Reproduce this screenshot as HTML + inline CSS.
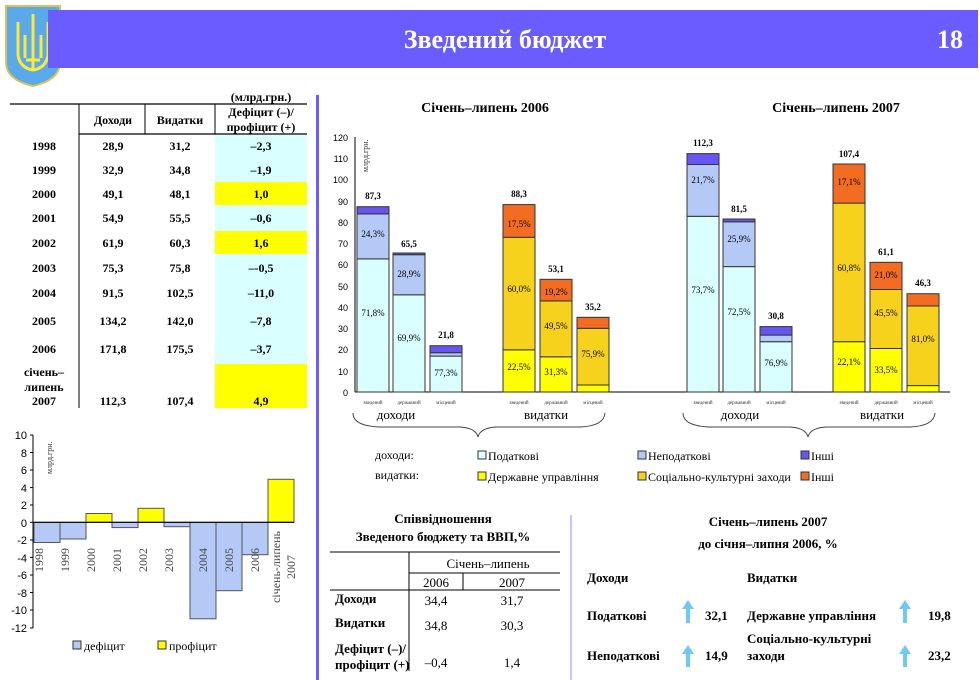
<!DOCTYPE html>
<html><head><meta charset="utf-8"><style>
body{margin:0;background:#fff;}
svg{display:block;font-family:"Liberation Serif",serif;}
</style></head><body>
<svg width="980" height="680" viewBox="0 0 980 680" xmlns="http://www.w3.org/2000/svg">
<!-- header -->
<path d="M6,6 L60,6 L60,62 Q60,80 33,86 Q6,80 6,62 Z" fill="#5aa9e8" stroke="#d9c25a" stroke-width="2"/>
<path d="M33,14 L33,70 M18,22 L18,55 Q20,68 33,70 Q46,68 48,55 L48,22 M25,35 L25,58 M41,35 L41,58 M26,60 L40,60" stroke="#ffe83a" stroke-width="3" fill="none"/>
<rect x="48" y="10" width="930" height="58" fill="#6a5cff"/>
<text x="505" y="48" font-size="26" font-weight="bold" fill="#fff" text-anchor="middle">Зведений бюджет</text>
<text x="950" y="48" font-size="26" font-weight="bold" fill="#fff" text-anchor="middle">18</text>
<rect x="316" y="95" width="3" height="585" fill="#6a5cff"/>

<!-- left table -->
<g font-size="12" font-weight="bold" text-anchor="middle">
<text x="261" y="101">(млрд.грн.)</text>
<line x1="10" y1="104" x2="307" y2="104" stroke="#000" stroke-width="1.2"/>
<text x="113" y="124">Доходи</text><text x="180" y="124">Видатки</text>
<text x="261" y="116">Дефіцит (–)/</text><text x="261" y="131">профіцит (+)</text>
<line x1="79" y1="134" x2="307" y2="134" stroke="#000" stroke-width="1.2"/>
<line x1="79" y1="104" x2="79" y2="408" stroke="#000"/>
<line x1="145" y1="104" x2="145" y2="134" stroke="#000"/>
<line x1="215" y1="104" x2="215" y2="134" stroke="#000"/>
<rect x="215" y="135" width="92" height="273" fill="#d9ffff"/>
<rect x="215" y="182" width="92" height="23" fill="#ffff00"/>
<rect x="215" y="231" width="92" height="23" fill="#ffff00"/>
<rect x="215" y="364" width="92" height="44" fill="#ffff00"/>
<g>
<text x="44" y="150">1998</text><text x="113" y="150">28,9</text><text x="180" y="150">31,2</text><text x="261" y="150">–2,3</text>
<text x="44" y="174">1999</text><text x="113" y="174">32,9</text><text x="180" y="174">34,8</text><text x="261" y="174">–1,9</text>
<text x="44" y="198">2000</text><text x="113" y="198">49,1</text><text x="180" y="198">48,1</text><text x="261" y="198">1,0</text>
<text x="44" y="222">2001</text><text x="113" y="222">54,9</text><text x="180" y="222">55,5</text><text x="261" y="222">–0,6</text>
<text x="44" y="247">2002</text><text x="113" y="247">61,9</text><text x="180" y="247">60,3</text><text x="261" y="247">1,6</text>
<text x="44" y="272">2003</text><text x="113" y="272">75,3</text><text x="180" y="272">75,8</text><text x="261" y="272">–-0,5</text>
<text x="44" y="297">2004</text><text x="113" y="297">91,5</text><text x="180" y="297">102,5</text><text x="261" y="297">–11,0</text>
<text x="44" y="325">2005</text><text x="113" y="325">134,2</text><text x="180" y="325">142,0</text><text x="261" y="325">–7,8</text>
<text x="44" y="353">2006</text><text x="113" y="353">171,8</text><text x="180" y="353">175,5</text><text x="261" y="353">–3,7</text>
<text x="44" y="376">січень–</text><text x="44" y="391">липень</text>
<text x="44" y="405">2007</text><text x="113" y="405">112,3</text><text x="180" y="405">107,4</text><text x="261" y="405">4,9</text>
</g>
</g>

<!-- bottom-left chart -->
<g font-size="11" font-family="Liberation Sans, sans-serif" text-anchor="end">
<line x1="33" y1="435" x2="33" y2="628" stroke="#000"/>
<text x="27" y="439">10</text><text x="27" y="457">8</text><text x="27" y="474">6</text><text x="27" y="492">4</text><text x="27" y="509">2</text><text x="27" y="527">0</text>
<text x="27" y="544">-2</text><text x="27" y="562">-4</text><text x="27" y="579">-6</text><text x="27" y="597">-8</text><text x="27" y="614">-10</text><text x="27" y="632">-12</text>
<g stroke="#000"><line x1="30" y1="435" x2="33" y2="435"/><line x1="30" y1="452.5" x2="33" y2="452.5"/><line x1="30" y1="470" x2="33" y2="470"/><line x1="30" y1="487.6" x2="33" y2="487.6"/><line x1="30" y1="505" x2="33" y2="505"/><line x1="30" y1="522.3" x2="33" y2="522.3"/><line x1="30" y1="540" x2="33" y2="540"/><line x1="30" y1="557.4" x2="33" y2="557.4"/><line x1="30" y1="575" x2="33" y2="575"/><line x1="30" y1="592.5" x2="33" y2="592.5"/><line x1="30" y1="610" x2="33" y2="610"/><line x1="30" y1="628" x2="33" y2="628"/></g>
</g>
<text transform="translate(52,474) rotate(-90)" font-size="8" fill="#333">млрд.грн.</text>
<g stroke="#555" stroke-width="1">
<rect x="34" y="522.3" width="26" height="20.2" fill="#b4c9f5"/>
<rect x="60" y="522.3" width="26" height="16.7" fill="#b4c9f5"/>
<rect x="86" y="513.5" width="26" height="8.8" fill="#ffff00"/>
<rect x="112" y="522.3" width="26" height="5.3" fill="#b4c9f5"/>
<rect x="138" y="508.3" width="26" height="14" fill="#ffff00"/>
<rect x="164" y="522.3" width="26" height="4.4" fill="#b4c9f5"/>
<rect x="190" y="522.3" width="26" height="96.5" fill="#b4c9f5"/>
<rect x="216" y="522.3" width="26" height="68.4" fill="#b4c9f5"/>
<rect x="242" y="522.3" width="26" height="32.4" fill="#b4c9f5"/>
<rect x="268" y="479.3" width="26" height="43" fill="#ffff00"/>
</g>
<line x1="33" y1="522.3" x2="294" y2="522.3" stroke="#000" stroke-width="1.2"/>
<g font-size="12" fill="#444">
<text transform="translate(43,560) rotate(-90)" text-anchor="middle">1998</text>
<text transform="translate(69,560) rotate(-90)" text-anchor="middle">1999</text>
<text transform="translate(95,560) rotate(-90)" text-anchor="middle">2000</text>
<text transform="translate(121,560) rotate(-90)" text-anchor="middle">2001</text>
<text transform="translate(147,560) rotate(-90)" text-anchor="middle">2002</text>
<text transform="translate(173,560) rotate(-90)" text-anchor="middle">2003</text>
<text transform="translate(207,560) rotate(-90)" text-anchor="middle">2004</text>
<text transform="translate(233,560) rotate(-90)" text-anchor="middle">2005</text>
<text transform="translate(259,560) rotate(-90)" text-anchor="middle">2006</text>
<text transform="translate(280,567) rotate(-90)" text-anchor="middle">січень-липень</text>
<text transform="translate(295,567) rotate(-90)" text-anchor="middle">2007</text>
</g>
<rect x="73" y="641" width="8" height="8" fill="#b4c9f5" stroke="#333"/>
<text x="84" y="650" font-size="12">дефіцит</text>
<rect x="158" y="641" width="8" height="8" fill="#ffff00" stroke="#333"/>
<text x="169" y="650" font-size="12">профіцит</text>

<!-- main chart -->
<text x="485" y="112" font-size="14" font-weight="bold" text-anchor="middle">Січень–липень 2006</text>
<text x="836" y="112" font-size="14" font-weight="bold" text-anchor="middle">Січень–липень 2007</text>
<g font-size="9" font-family="Liberation Sans, sans-serif" text-anchor="end">
<line x1="355" y1="137" x2="355" y2="392" stroke="#000"/>
<text x="348" y="141">120</text><text x="348" y="162">110</text><text x="348" y="183">100</text><text x="348" y="205">90</text><text x="348" y="226">80</text><text x="348" y="247">70</text><text x="348" y="268">60</text><text x="348" y="290">50</text><text x="348" y="311">40</text><text x="348" y="332">30</text><text x="348" y="353">20</text><text x="348" y="375">10</text><text x="348" y="396">0</text>
</g>
<text transform="translate(368,172) rotate(-90)" font-size="8" fill="#333">млрд.грн.</text>
<line x1="355" y1="392" x2="950" y2="392" stroke="#000"/>
<g stroke="#333" stroke-width="1">
<rect x="357" y="258.9" width="32" height="133.1" fill="#d9ffff"/><rect x="357" y="213.9" width="32" height="45" fill="#b4c9f5"/><rect x="357" y="206.7" width="32" height="7.2" fill="#6655ee"/>
<rect x="393" y="294.8" width="32" height="97.2" fill="#d9ffff"/><rect x="393" y="254.7" width="32" height="40.1" fill="#b4c9f5"/><rect x="393" y="253" width="32" height="1.7" fill="#6655ee"/>
<rect x="430" y="356.1" width="32" height="35.9" fill="#d9ffff"/><rect x="430" y="352.7" width="32" height="3.4" fill="#b4c9f5"/><rect x="430" y="345.7" width="32" height="7" fill="#6655ee"/>
<rect x="503" y="349.8" width="32" height="42.2" fill="#ffff00"/><rect x="503" y="237.3" width="32" height="112.5" fill="#f7d21c"/><rect x="503" y="204.6" width="32" height="32.7" fill="#f26d21"/>
<rect x="540" y="356.8" width="32" height="35.2" fill="#ffff00"/><rect x="540" y="300.9" width="32" height="55.9" fill="#f7d21c"/><rect x="540" y="279.3" width="32" height="21.6" fill="#f26d21"/>
<rect x="577" y="385" width="32" height="7" fill="#ffff00"/><rect x="577" y="328.3" width="32" height="56.7" fill="#f7d21c"/><rect x="577" y="317.3" width="32" height="11" fill="#f26d21"/>
<rect x="687" y="216.3" width="32" height="175.7" fill="#d9ffff"/><rect x="687" y="164.5" width="32" height="51.8" fill="#b4c9f5"/><rect x="687" y="153.6" width="32" height="10.9" fill="#6655ee"/>
<rect x="723" y="266.6" width="32" height="125.4" fill="#d9ffff"/><rect x="723" y="221.8" width="32" height="44.8" fill="#b4c9f5"/><rect x="723" y="219" width="32" height="2.8" fill="#6655ee"/>
<rect x="760" y="341.7" width="32" height="50.3" fill="#d9ffff"/><rect x="760" y="335.1" width="32" height="6.6" fill="#b4c9f5"/><rect x="760" y="326.6" width="32" height="8.5" fill="#6655ee"/>
<rect x="833" y="341.7" width="32" height="50.3" fill="#ffff00"/><rect x="833" y="203.1" width="32" height="138.6" fill="#f7d21c"/><rect x="833" y="164" width="32" height="39.1" fill="#f26d21"/>
<rect x="870" y="348.5" width="32" height="43.5" fill="#ffff00"/><rect x="870" y="289.5" width="32" height="59" fill="#f7d21c"/><rect x="870" y="262.3" width="32" height="27.2" fill="#f26d21"/>
<rect x="907" y="385.6" width="32" height="6.4" fill="#ffff00"/><rect x="907" y="306" width="32" height="79.6" fill="#f7d21c"/><rect x="907" y="293.7" width="32" height="12.3" fill="#f26d21"/>
</g>
<g font-size="9" text-anchor="middle">
<text x="373" y="237">24,3%</text><text x="373" y="316">71,8%</text>
<text x="409" y="277">28,9%</text><text x="409" y="341">69,9%</text>
<text x="446" y="376">77,3%</text>
<text x="519" y="227">17,5%</text><text x="519" y="292">60,0%</text><text x="519" y="370">22,5%</text>
<text x="556" y="295">19,2%</text><text x="556" y="329">49,5%</text><text x="556" y="375">31,3%</text>
<text x="593" y="357">75,9%</text>
<text x="703" y="183">21,7%</text><text x="703" y="293">73,7%</text>
<text x="739" y="242">25,9%</text><text x="739" y="315">72,5%</text>
<text x="776" y="366">76,9%</text>
<text x="849" y="185">17,1%</text><text x="849" y="271">60,8%</text><text x="849" y="365">22,1%</text>
<text x="886" y="278">21,0%</text><text x="886" y="316">45,5%</text><text x="886" y="373">33,5%</text>
<text x="923" y="342">81,0%</text>
</g>
<g font-size="9" font-weight="bold" text-anchor="middle">
<text x="373" y="199">87,3</text><text x="409" y="247">65,5</text><text x="446" y="338">21,8</text>
<text x="519" y="197">88,3</text><text x="556" y="272">53,1</text><text x="593" y="310">35,2</text>
<text x="703" y="146">112,3</text><text x="739" y="212">81,5</text><text x="776" y="319">30,8</text>
<text x="849" y="157">107,4</text><text x="886" y="255">61,1</text><text x="923" y="286">46,3</text>
</g>
<g font-size="5" text-anchor="middle" fill="#333">
<text x="373" y="404">зведений</text><text x="409" y="404">державний</text><text x="446" y="404">місцевий</text>
<text x="519" y="404">зведений</text><text x="556" y="404">державний</text><text x="593" y="404">місцевий</text>
<text x="703" y="404">зведений</text><text x="739" y="404">державний</text><text x="776" y="404">місцевий</text>
<text x="849" y="404">зведений</text><text x="886" y="404">державний</text><text x="923" y="404">місцевий</text>
</g>
<g font-size="13" text-anchor="middle">
<text x="396" y="419">доходи</text><text x="546" y="419">видатки</text>
<text x="740" y="419">доходи</text><text x="882" y="419">видатки</text>
</g>
<g fill="none" stroke="#444" stroke-width="1">
<path d="M353,413 Q353,426 380,427 L460,427 Q476,428 478,437 Q480,428 496,427 L580,427 Q604,426 605,413"/>
<path d="M683,413 Q683,426 710,427 L790,427 Q806,428 808,437 Q810,428 826,427 L910,427 Q934,426 935,413"/>
</g>
<g font-size="12">
<text x="375" y="459">доходи:</text><text x="375" y="479">видатки:</text>
<rect x="478" y="451" width="8" height="8" fill="#d9ffff" stroke="#333"/><text x="488" y="460">Податкові</text>
<rect x="638" y="451" width="8" height="8" fill="#b4c9f5" stroke="#333"/><text x="648" y="460">Неподаткові</text>
<rect x="801" y="451" width="8" height="8" fill="#6655ee" stroke="#333"/><text x="811" y="460">Інші</text>
<rect x="478" y="472" width="8" height="8" fill="#ffff00" stroke="#333"/><text x="488" y="481">Державне управління</text>
<rect x="638" y="472" width="8" height="8" fill="#f7d21c" stroke="#333"/><text x="648" y="481">Соціально-культурні заходи</text>
<rect x="801" y="472" width="8" height="8" fill="#f26d21" stroke="#333"/><text x="811" y="481">Інші</text>
</g>

<!-- bottom middle table -->
<g font-size="13" font-weight="bold" text-anchor="middle">
<text x="443" y="523">Співвідношення</text>
<text x="443" y="541">Зведеного бюджету та ВВП,%</text>
</g>
<g stroke="#000">
<line x1="330" y1="552" x2="560" y2="552"/>
<line x1="409" y1="552" x2="409" y2="671"/>
<line x1="409" y1="573" x2="560" y2="573"/>
<line x1="463" y1="573" x2="463" y2="590"/>
<line x1="330" y1="590" x2="560" y2="590"/>
</g>
<g font-size="13" text-anchor="middle">
<text x="488" y="568">Січень–липень</text>
<text x="436" y="587">2006</text><text x="512" y="587">2007</text>
<text x="436" y="605">34,4</text><text x="512" y="605">31,7</text>
<text x="436" y="630">34,8</text><text x="512" y="630">30,3</text>
<text x="436" y="667">–0,4</text><text x="512" y="667">1,4</text>
</g>
<g font-size="13" font-weight="bold">
<text x="335" y="603">Доходи</text><text x="335" y="627">Видатки</text>
<text x="335" y="653">Дефіцит (–)/</text><text x="335" y="669">профіцит (+)</text>
</g>
<line x1="571" y1="515" x2="571" y2="680" stroke="#8a8aff"/>

<!-- bottom right -->
<g font-size="13" font-weight="bold">
<text x="768" y="526" text-anchor="middle">Січень–липень 2007</text>
<text x="768" y="548" text-anchor="middle">до січня–липня 2006, %</text>
<text x="587" y="582">Доходи</text><text x="747" y="582">Видатки</text>
<text x="587" y="620">Податкові</text><text x="705" y="620">32,1</text>
<text x="747" y="620">Державне управління</text><text x="928" y="620">19,8</text>
<text x="587" y="660">Неподаткові</text><text x="705" y="660">14,9</text>
<text x="747" y="643">Соціально-культурні</text><text x="747" y="660">заходи</text><text x="928" y="660">23,2</text>
</g>
<g fill="#6fc8f5">
<path d="M688,600 L694,609 L690,609 L690,623 L686,623 L686,609 L682,609 Z"/>
<path d="M688,645 L694,654 L690,654 L690,667 L686,667 L686,654 L682,654 Z"/>
<path d="M905,600 L911,609 L907,609 L907,623 L903,623 L903,609 L899,609 Z"/>
<path d="M905,645 L911,654 L907,654 L907,667 L903,667 L903,654 L899,654 Z"/>
</g>
</svg>
</body></html>
